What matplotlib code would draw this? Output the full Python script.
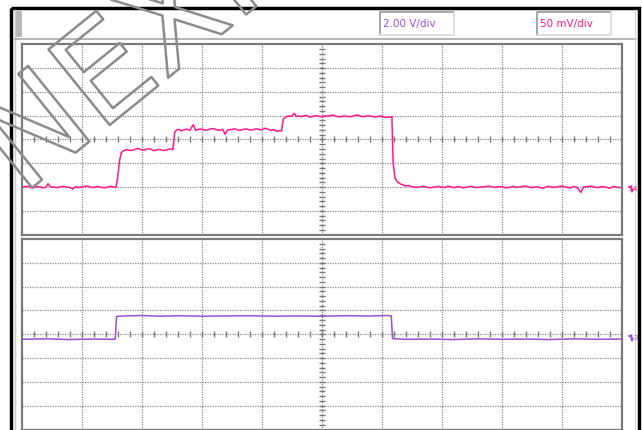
import matplotlib
matplotlib.use("Agg")
import matplotlib.pyplot as plt
import matplotlib.patheffects as pe
from matplotlib.patches import Rectangle

# ---------------- data (divisions, 10 x 8 screen) ----------------
# channel 4 (pink), 50 mV/div : (time div, level div)
ch4_points = [
    (0.00, -2.00), (0.05, -1.98), (0.10, -1.97), (0.15, -2.01), (0.20, -2.02), (0.25, -1.99),
    (0.30, -1.98), (0.35, -2.03), (0.40, -2.01), (0.44, -1.86), (0.48, -1.99), (0.55, -2.01),
    (0.60, -2.02), (0.65, -1.98), (0.70, -1.97), (0.75, -2.00), (0.80, -2.01), (0.85, -2.08),
    (0.90, -1.98), (0.95, -2.02), (1.00, -2.00), (1.05, -1.97), (1.10, -1.96), (1.15, -2.00),
    (1.20, -2.02), (1.25, -1.98), (1.30, -1.99), (1.35, -2.02), (1.40, -2.03), (1.45, -1.98),
    (1.50, -1.97), (1.57, -2.02), (1.60, -1.60), (1.63, -0.90), (1.66, -0.55), (1.70, -0.47),
    (1.75, -0.42), (1.80, -0.46), (1.85, -0.45), (1.90, -0.40), (1.95, -0.38), (2.00, -0.44),
    (2.05, -0.44), (2.10, -0.39), (2.15, -0.40), (2.20, -0.47), (2.25, -0.43), (2.30, -0.42),
    (2.35, -0.46), (2.40, -0.45), (2.45, -0.41), (2.50, -0.40), (2.52, -0.43), (2.55, 0.30),
    (2.58, 0.40), (2.62, 0.43), (2.66, 0.36), (2.70, 0.40), (2.75, 0.44), (2.80, 0.38),
    (2.86, 0.62), (2.90, 0.38), (2.95, 0.43), (3.00, 0.44), (3.05, 0.39), (3.10, 0.40),
    (3.15, 0.45), (3.20, 0.46), (3.25, 0.41), (3.30, 0.38), (3.35, 0.43), (3.39, 0.22),
    (3.43, 0.40), (3.50, 0.42), (3.55, 0.45), (3.60, 0.40), (3.65, 0.39), (3.70, 0.43),
    (3.75, 0.44), (3.80, 0.41), (3.85, 0.40), (3.90, 0.45), (3.95, 0.43), (4.00, 0.40),
    (4.05, 0.47), (4.10, 0.44), (4.15, 0.38), (4.20, 0.42), (4.25, 0.34), (4.30, 0.37),
    (4.33, 0.36), (4.36, 0.85), (4.40, 0.95), (4.45, 0.99), (4.50, 0.97), (4.54, 1.10),
    (4.58, 0.97), (4.62, 0.99), (4.66, 0.96), (4.70, 0.99), (4.75, 1.01), (4.80, 0.94),
    (4.85, 0.97), (4.90, 1.00), (4.95, 0.98), (5.00, 0.96), (5.05, 0.99), (5.10, 0.98),
    (5.15, 1.01), (5.20, 1.02), (5.25, 0.97), (5.30, 0.95), (5.35, 0.98), (5.40, 0.99),
    (5.45, 0.96), (5.50, 0.97), (5.55, 1.01), (5.60, 1.03), (5.65, 0.98), (5.70, 0.96),
    (5.75, 0.99), (5.80, 0.99), (5.85, 0.97), (5.90, 0.95), (5.95, 0.98), (6.00, 0.98),
    (6.05, 0.94), (6.10, 0.93), (6.17, 0.96), (6.19, -0.95), (6.22, -1.60), (6.26, -1.78),
    (6.32, -1.88), (6.40, -1.95), (6.45, -1.93), (6.50, -1.98), (6.55, -2.00), (6.60, -2.01),
    (6.65, -1.98), (6.70, -1.97), (6.75, -2.00), (6.80, -2.03), (6.85, -2.01), (6.90, -1.99),
    (6.95, -1.97), (7.00, -2.00), (7.05, -2.02), (7.10, -1.96), (7.15, -1.99), (7.20, -2.02),
    (7.25, -2.00), (7.30, -1.98), (7.35, -2.03), (7.40, -2.01), (7.45, -1.98), (7.50, -1.97),
    (7.55, -2.01), (7.60, -2.02), (7.65, -1.99), (7.70, -1.99), (7.75, -1.97), (7.80, -1.96),
    (7.85, -2.00), (7.90, -2.01), (7.95, -1.98), (8.00, -1.98), (8.05, -2.02), (8.10, -2.03),
    (8.15, -1.99), (8.20, -1.97), (8.25, -2.01), (8.30, -2.00), (8.35, -1.97), (8.40, -1.96),
    (8.45, -1.99), (8.50, -2.02), (8.55, -2.00), (8.60, -1.99), (8.65, -2.03), (8.70, -2.04),
    (8.75, -1.98), (8.80, -1.97), (8.85, -2.01), (8.90, -2.00), (8.95, -1.98), (9.00, -1.95),
    (9.05, -1.99), (9.10, -2.01), (9.15, -2.03), (9.20, -1.98), (9.25, -2.00), (9.32, -2.22),
    (9.36, -2.00), (9.40, -1.99), (9.45, -1.97), (9.50, -1.96), (9.55, -2.00), (9.60, -2.02),
    (9.65, -1.99), (9.70, -1.98), (9.75, -2.01), (9.80, -2.05), (9.85, -1.98), (9.90, -1.99),
    (9.95, -2.02), (10.00, -2.01),
]

# channel 3 (purple), 2.00 V/div
ch3_points = [
    (0.00, -0.21), (0.40, -0.19), (0.80, -0.22), (1.20, -0.20), (1.50, -0.21), (1.56, -0.20),
    (1.58, 0.75), (1.70, 0.77), (2.00, 0.79), (2.30, 0.76), (2.60, 0.78), (3.00, 0.76),
    (3.40, 0.77), (3.80, 0.78), (4.20, 0.76), (4.60, 0.77), (5.00, 0.76), (5.40, 0.78),
    (5.80, 0.77), (6.10, 0.79), (6.16, 0.77), (6.18, -0.18), (6.40, -0.21), (6.80, -0.20),
    (7.20, -0.22), (7.60, -0.19), (8.00, -0.21), (8.40, -0.20), (8.80, -0.22), (9.20, -0.19),
    (9.60, -0.21), (10.00, -0.20),
]

scale_labels = ['2.00 V/div', '50 mV/div']
pink = '#ff1a8c'
purple = '#9a4fd0'
grid_c = '#8a8a8a'

W, H = 642, 430
fig = plt.figure(figsize=(W / 100, H / 100), dpi=100)
fig.patch.set_facecolor('white')

# background layer in pixel coordinates
bg = fig.add_axes([0, 0, 1, 1])
bg.set_xlim(0, W)
bg.set_ylim(H, 0)
bg.axis('off')
bg.add_patch(Rectangle((11, 8), 628, 430, fill=False, ec='black', lw=2.5))
bg.plot([15, 15], [10, 430], color='#c8c8c8', lw=1)
bg.plot([15, 636], [38.5, 38.5], color='#a8a8a8', lw=1.2)
bg.plot([635, 635], [10, 430], color='#d8d8d8', lw=1)
bg.add_patch(Rectangle((16, 11), 6, 26, fc='#b8b8b8', ec='none'))
for (x0, x1), lab, c in zip([(380, 454), (537, 611)], scale_labels, [purple, pink]):
    bg.add_patch(Rectangle((x0, 12), x1 - x0, 23, fc='white', ec='none'))
    bg.plot([x0, x0, x1], [35, 12, 12], color='#a0a0a0', lw=1.3)
    bg.plot([x0, x1, x1], [35, 35, 12], color='#dddddd', lw=1.3)
    bg.text(x0 + 3, 24, lab, color=c, fontsize=7.5, va='center', ha='left')


def scope_panel(top, pts, color):
    left, width, height = 21.7, 600, 190.4
    ax = fig.add_axes([left / W, 1 - (top + height) / H, width / W, height / H])
    ax.set_xlim(0, 10)
    ax.set_ylim(-4, 4)
    ax.set_facecolor('white')
    for i in range(1, 10):
        ax.axvline(i, color=grid_c, lw=0.9, ls=(0, (1, 1)))
    for j in range(-3, 4):
        ax.axhline(j, color=grid_c, lw=0.9, ls=(0, (1, 1)))
    ticks_x = [k * 0.2 for k in range(1, 50)]
    ticks_y = [k * 0.2 - 4 for k in range(1, 40)]
    ax.plot(ticks_x, [0] * len(ticks_x), ls='none', marker='|', ms=4, color='#7a7a7a', mew=1)
    ax.plot([5] * len(ticks_y), ticks_y, ls='none', marker='_', ms=5, color='#7a7a7a', mew=1)
    tt = [p[0] for p in pts]
    vv = [p[1] for p in pts]
    ax.plot(tt, vv, color=color, lw=1.1)
    ax.set_xticks([])
    ax.set_yticks([])
    for s in ax.spines.values():
        s.set_color('#7a7a7a')
        s.set_linewidth(1.6)
    return ax


scope_panel(44.3, ch4_points, pink)
scope_panel(239.1, ch3_points, purple)


def marker(y, num, color):
    bg.annotate('', xy=(625, y), xytext=(632, y),
                arrowprops=dict(arrowstyle='-|>', color=color, lw=0.8, mutation_scale=5))
    bg.annotate('', xy=(632, y + 9), xytext=(632, y),
                arrowprops=dict(arrowstyle='-|>', color=color, lw=0.8, mutation_scale=5))
    bg.text(633, y + 2, num, color=color, fontsize=5, va='center', ha='left')


marker(187, '4', pink)
marker(336, '3', purple)

# watermark (outlined letters, runs off the top edge as in the original)
fig.text(22 / W, 1 - 196 / H, 'NEXPERIA', rotation=39, rotation_mode='anchor',
         fontsize=96, color='none', ha='left', va='baseline', zorder=20,
         path_effects=[pe.Stroke(linewidth=1.8, foreground='#8c8c8c')])

fig.savefig('out.png', dpi=100, facecolor='white')
